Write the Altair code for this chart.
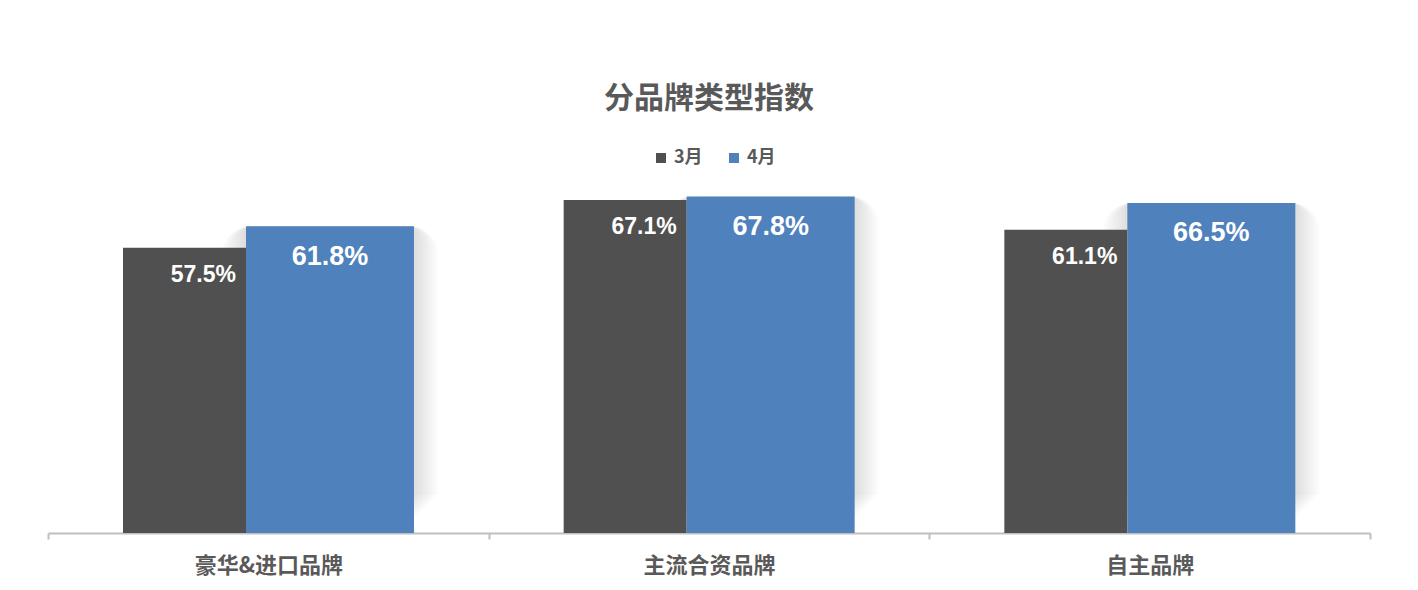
import altair as alt
import pandas as pd

categories = ["豪华&进口品牌", "主流合资品牌", "自主品牌"]
series_names = ["3月", "4月"]
march = [57.5, 67.1, 61.1]
april = [61.8, 67.8, 66.5]
colors = ["#505050", "#4F81BD"]

rows = []
for c, v in zip(categories, march):
    rows.append({"category": c, "series": "3月", "value": v})
for c, v in zip(categories, april):
    rows.append({"category": c, "series": "4月", "value": v})
df = pd.DataFrame(rows)

W, H = 1322, 397
band = W / 3.0

x_enc = alt.X("category:N", sort=categories,
              scale=alt.Scale(domain=categories, paddingInner=0, paddingOuter=0),
              axis=alt.Axis(title=None, labelAngle=0, domainColor="#BFBFBF", domainWidth=2,
                            tickColor="#BFBFBF", tickWidth=2, tickSize=6, tickBand="extent",
                            labelFont="Noto Sans CJK SC", labelFontSize=22, labelFontWeight="bold",
                            labelColor="#595959", labelBaseline="middle", labelPadding=26))
y_enc = alt.Y("value:Q", scale=alt.Scale(domain=[0, 80], nice=False, zero=True), axis=None)
color_enc = alt.Color("series:N", scale=alt.Scale(domain=series_names, range=colors),
                      legend=alt.Legend(title=None, orient="none", direction="horizontal",
                                        legendX=604, legendY=13, symbolType="square",
                                        symbolSize=100, symbolStrokeWidth=0,
                                        labelFont="Noto Sans CJK SC", labelFontSize=18,
                                        labelFontWeight="bold", labelColor="#595959",
                                        labelOffset=4, columnPadding=22))

base = alt.Chart(df).transform_calculate(label="format(datum.value, '.1f') + '%'")

gray_w = 123 / band
blue_w = 168 / band
gray_off = (123 + 246) / 2 - 48 - band / 2
blue_off = (246 + 414) / 2 - 48 - band / 2

# soft blurred shadow behind the April bars (offset upward)
shift = 14
shadows = []
for e in range(-24, 27, 3):
    shadows.append(
        base.transform_filter(alt.datum.series == "4月").mark_bar(
            width={"band": (168 + 2 * e) / band}, xOffset=blue_off,
            yOffset=-(shift + e), y2Offset=0,
            color="#000000", opacity=0.017, cornerRadius=max(e, 0) + 4
        ).encode(x=x_enc, y=y_enc)
    )

bars_m = base.transform_filter(alt.datum.series == "3月").mark_bar(
    width={"band": gray_w}, xOffset=gray_off).encode(x=x_enc, y=y_enc, color=color_enc)
bars_a = base.transform_filter(alt.datum.series == "4月").mark_bar(
    width={"band": blue_w}, xOffset=blue_off).encode(x=x_enc, y=y_enc, color=color_enc)

label_font = "Liberation Sans Narrow, Liberation Sans, Arial, sans-serif"
text_m = base.transform_filter(alt.datum.series == "3月").mark_text(
    align="right", baseline="alphabetic", dx=gray_off + 123 / 2 - 10, dy=34,
    font=label_font, fontSize=23, fontWeight="bold", color="white"
).encode(x=x_enc, y=y_enc, text="label:N")
text_a = base.transform_filter(alt.datum.series == "4月").mark_text(
    align="center", baseline="alphabetic", dx=blue_off, dy=38.5,
    font=label_font, fontSize=27, fontWeight="bold", color="white"
).encode(x=x_enc, y=y_enc, text="label:N")

chart = alt.layer(*shadows, bars_m, bars_a, text_m, text_a).properties(
    width=W, height=H,
    background="white",
    title=alt.TitleParams("分品牌类型指数", font="Noto Sans CJK SC", fontSize=30,
                          fontWeight="bold", color="#595959", anchor="middle", offset=22),
    autosize=alt.AutoSizeParams(type="none"),
    padding={"left": 40, "top": 128, "right": 40, "bottom": 49},
).configure_view(stroke="transparent", strokeWidth=0)

chart.save("out.html", embed_options={"renderer": "svg", "actions": False})
